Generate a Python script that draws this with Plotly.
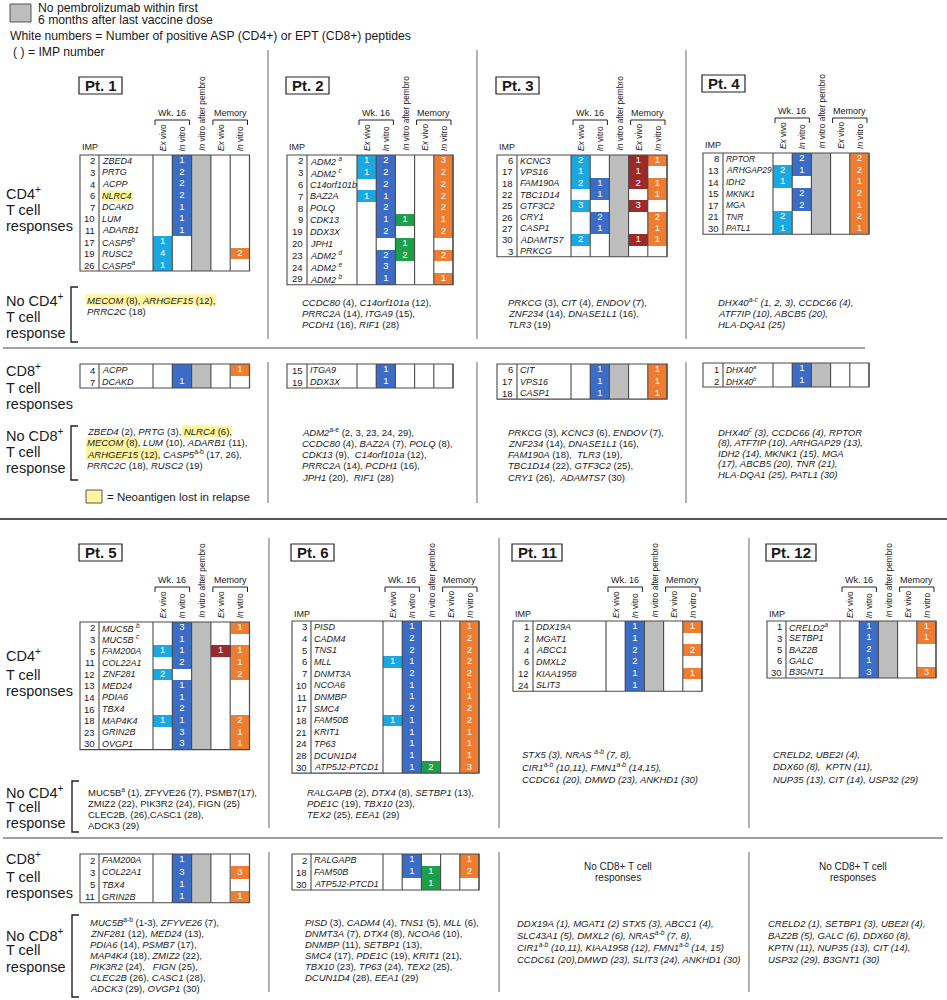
import re
import plotly.graph_objects as go

N = None

# ------------------------------------------------------------------ data
# Pt. 1
pt1_cd4_imp = [2, 3, 4, 6, 7, 10, 11, 17, 19, 26]
pt1_cd4_gene = ["ZBED4", "PRTG", "ACPP", "NLRC4", "DCAKD", "LUM", "ADARB1", "CASP5^b", "RUSC2", "CASP5^a"]
pt1_cd4_exvivo = [N, N, N, N, N, N, N, 1, 4, 1]
pt1_cd4_invitro = [1, 2, 2, 2, 1, 1, 1, N, N, N]
pt1_cd4_pembro = [N, N, N, N, N, N, N, N, N, N]
pt1_cd4_memex = [N, N, N, N, N, N, N, N, N, N]
pt1_cd4_memin = [N, N, N, N, N, N, N, N, 2, N]
pt1_cd8_imp = [4, 7]
pt1_cd8_gene = ["ACPP", "DCAKD"]
pt1_cd8_exvivo = [N, N]
pt1_cd8_invitro = ["", 1]
pt1_cd8_pembro = [N, N]
pt1_cd8_memex = [N, N]
pt1_cd8_memin = [1, N]
pt1_no_pembro = True
pt1_lost_genes = ["NLRC4"]
pt1_no_cd4 = ["MECOM (8), ARHGEF15 (12),", "PRRC2C (18)"]
pt1_no_cd4_lost = [(0, "MECOM (8), ARHGEF15 (12),")]
pt1_no_cd8 = ["ZBED4 (2), PRTG (3), NLRC4 (6),", "MECOM (8), LUM (10), ADARB1 (11),",
              "ARHGEF15 (12), CASP5^a-b (17, 26),", "PRRC2C (18), RUSC2 (19)"]
pt1_no_cd8_lost = [(0, "NLRC4 (6),"), (1, "MECOM (8)"), (2, "ARHGEF15 (12),")]

# Pt. 2
pt2_cd4_imp = [2, 3, 6, 7, 8, 9, 19, 20, 23, 24, 29]
pt2_cd4_gene = ["ADM2 ^a", "ADM2 ^c", "C14orf101b", "BAZ2A", "POLQ", "CDK13", "DDX3X", "JPH1", "ADM2 ^d", "ADM2 ^e", "ADM2 ^b"]
pt2_cd4_exvivo = [1, 1, N, 1, N, N, N, N, N, N, N]
pt2_cd4_invitro = [2, 2, 2, 1, 2, 1, 2, N, 2, 3, 1]
pt2_cd4_pembro = [N, N, N, N, N, 1, N, 1, 2, N, N]
pt2_cd4_memex = [N, N, N, N, N, N, N, N, N, N, N]
pt2_cd4_memin = [3, 2, 2, 2, 2, 1, 2, N, 2, N, 1]
pt2_cd8_imp = [15, 19]
pt2_cd8_gene = ["ITGA9", "DDX3X"]
pt2_cd8_exvivo = [N, N]
pt2_cd8_invitro = [1, 1]
pt2_cd8_pembro = [N, N]
pt2_cd8_memex = [N, N]
pt2_cd8_memin = [N, N]
pt2_no_pembro = False
pt2_no_cd4 = ["CCDC80 (4), C14orf101a (12),", "PRRC2A (14), ITGA9 (15),", "PCDH1 (16), RIF1 (28)"]
pt2_no_cd8 = ["ADM2^a-e (2, 3, 23, 24, 29),", "CCDC80 (4), BAZ2A (7), POLQ (8),",
              "CDK13 (9),  C14orf101a (12),", "PRRC2A (14), PCDH1 (16),", "JPH1 (20),  RIF1 (28)"]

# Pt. 3
pt3_cd4_imp = [6, 17, 18, 22, 25, 26, 27, 30, 3]
pt3_cd4_gene = ["KCNC3", "VPS16", "FAM190A", "TBC1D14", "GTF3C2", "CRY1", "CASP1", "ADAMTS7", "PRKCG"]
pt3_cd4_exvivo = [2, 1, 2, N, 3, N, N, 2, N]
pt3_cd4_invitro = [N, N, 1, 1, N, 2, 1, N, N]
pt3_cd4_pembro = [N, N, N, N, N, N, N, N, N]
pt3_cd4_memex = [1, 1, 2, N, 3, N, N, 1, N]
pt3_cd4_memin = [1, N, 1, 1, N, 2, 1, 1, N]
pt3_cd8_imp = [6, 17, 18]
pt3_cd8_gene = ["CIT", "VPS16", "CASP1"]
pt3_cd8_exvivo = [N, N, N]
pt3_cd8_invitro = [1, 1, 1]
pt3_cd8_pembro = [N, N, N]
pt3_cd8_memex = [N, N, N]
pt3_cd8_memin = [1, 1, 1]
pt3_no_pembro = True
pt3_no_cd4 = ["PRKCG (3), CIT (4), ENDOV (7),", "ZNF234 (14), DNASE1L1 (16),", "TLR3 (19)"]
pt3_no_cd8 = ["PRKCG (3), KCNC3 (6), ENDOV (7),", "ZNF234 (14), DNASE1L1 (16),",
              "FAM190A (18),  TLR3 (19),", "TBC1D14 (22), GTF3C2 (25),", "CRY1 (26),  ADAMTS7 (30)"]

# Pt. 4
pt4_cd4_imp = [8, 13, 14, 15, 17, 21, 30]
pt4_cd4_gene = ["RPTOR", "ARHGAP29", "IDH2", "MKNK1", "MGA", "TNR", "PATL1"]
pt4_cd4_exvivo = [N, 2, 1, N, N, 2, 1]
pt4_cd4_invitro = [2, 1, N, 2, 2, N, N]
pt4_cd4_pembro = [N, N, N, N, N, N, N]
pt4_cd4_memex = [N, N, N, N, N, N, N]
pt4_cd4_memin = [2, 2, 1, 2, 1, 2, 1]
pt4_cd8_imp = [1, 2]
pt4_cd8_gene = ["DHX40^a", "DHX40^b"]
pt4_cd8_exvivo = [N, N]
pt4_cd8_invitro = [1, 1]
pt4_cd8_pembro = [N, N]
pt4_cd8_memex = [N, N]
pt4_cd8_memin = [N, N]
pt4_no_pembro = True
pt4_no_cd4 = ["DHX40^a-c (1, 2, 3), CCDC66 (4),", "ATF7IP (10), ABCB5 (20),", "HLA-DQA1 (25)"]
pt4_no_cd8 = ["DHX40^c (3), CCDC66 (4), RPTOR", "(8), ATF7IP (10), ARHGAP29 (13),",
              "IDH2 (14), MKNK1 (15), MGA", "(17), ABCB5 (20), TNR (21),", "HLA-DQA1 (25), PATL1 (30)"]

# Pt. 5
pt5_cd4_imp = [2, 3, 5, 11, 12, 13, 14, 16, 18, 23, 30]
pt5_cd4_gene = ["MUC5B ^b", "MUC5B ^c", "FAM200A", "COL22A1", "ZNF281", "MED24", "PDIA6", "TBX4", "MAP4K4", "GRIN2B", "OVGP1"]
pt5_cd4_exvivo = [N, N, 1, N, 2, N, N, N, 1, N, N]
pt5_cd4_invitro = [3, 1, 1, 2, N, 1, 1, 2, 1, 3, 3]
pt5_cd4_pembro = [N, N, N, N, N, N, N, N, N, N, N]
pt5_cd4_memex = [N, N, 1, N, N, N, N, N, N, N, N]
pt5_cd4_memin = [1, N, 1, 1, 2, N, N, N, 2, 1, 1]
pt5_cd8_imp = [2, 3, 5, 11]
pt5_cd8_gene = ["FAM200A", "COL22A1", "TBX4", "GRIN2B"]
pt5_cd8_exvivo = [N, N, N, N]
pt5_cd8_invitro = [1, 3, 1, 1]
pt5_cd8_pembro = [N, N, N, N]
pt5_cd8_memex = [N, N, N, N]
pt5_cd8_memin = [N, 3, N, 1]
pt5_no_pembro = True
pt5_no_cd4 = ["MUC5B^a (1), ZFYVE26 (7), PSMB7(17),", "ZMIZ2 (22), PIK3R2 (24), FIGN (25)",
              "CLEC2B, (26),CASC1 (28),", "ADCK3 (29)"]
pt5_no_cd8 = ["MUC5B^a-b (1-3), ZFYVE26 (7),", "ZNF281 (12), MED24 (13),", "PDIA6 (14), PSMB7 (17),",
              "MAP4K4 (18), ZMIZ2 (22),", "PIK3R2 (24),   FIGN (25),", "CLEC2B (26), CASC1 (28),",
              "ADCK3 (29), OVGP1 (30)"]

# Pt. 6
pt6_cd4_imp = [3, 4, 5, 6, 7, 10, 11, 17, 18, 21, 24, 28, 30]
pt6_cd4_gene = ["PISD", "CADM4", "TNS1", "MLL", "DNMT3A", "NCOA6", "DNMBP", "SMC4", "FAM50B", "KRIT1", "TP63", "DCUN1D4", "ATP5J2-PTCD1"]
pt6_cd4_exvivo = [N, N, N, 1, N, N, N, N, 1, N, N, N, N]
pt6_cd4_invitro = [1, 2, 2, 1, 2, 1, 1, 2, 1, 1, 1, 1, 1]
pt6_cd4_pembro = [N, N, N, N, N, N, N, N, N, N, N, N, 2]
pt6_cd4_memex = [N, N, N, N, N, N, N, N, N, N, N, N, N]
pt6_cd4_memin = [1, 2, 2, 2, 2, 1, 1, 2, 2, 1, 1, 1, 3]
pt6_cd8_imp = [2, 18, 30]
pt6_cd8_gene = ["RALGAPB", "FAM50B", "ATP5J2-PTCD1"]
pt6_cd8_exvivo = [N, N, N]
pt6_cd8_invitro = [1, 1, N]
pt6_cd8_pembro = [N, 1, 1]
pt6_cd8_memex = [N, N, N]
pt6_cd8_memin = [1, 2, N]
pt6_no_pembro = False
pt6_no_cd4 = ["RALGAPB (2), DTX4 (8), SETBP1 (13),", "PDE1C (19), TBX10 (23),", "TEX2 (25), EEA1 (29)"]
pt6_no_cd8 = ["PISD (3), CADM4 (4), TNS1 (5), MLL (6),", "DNMT3A (7), DTX4 (8), NCOA6 (10),",
              "DNMBP (11), SETBP1 (13),", "SMC4 (17), PDE1C (19), KRIT1 (21),",
              "TBX10 (23), TP63 (24), TEX2 (25),", "DCUN1D4 (28), EEA1 (29)"]

# Pt. 11
pt11_cd4_imp = [1, 2, 4, 6, 12, 24]
pt11_cd4_gene = ["DDX19A", "MGAT1", "ABCC1", "DMXL2", "KIAA1958", "SLIT3"]
pt11_cd4_exvivo = [N, N, N, N, N, N]
pt11_cd4_invitro = [1, 1, 2, 2, 1, 1]
pt11_cd4_pembro = [N, N, N, N, N, N]
pt11_cd4_memex = [N, N, N, N, N, N]
pt11_cd4_memin = [1, N, 2, N, 1, N]
pt11_no_pembro = True
pt11_no_cd4 = ["STX5 (3), NRAS ^a-b (7, 8),", "CIR1^a-b (10,11), FMN1^a-b (14,15),", "CCDC61 (20), DMWD (23), ANKHD1 (30)"]
pt11_no_cd8 = ["DDX19A (1), MGAT1 (2) STX5 (3), ABCC1 (4),", "SLC43A1 (5), DMXL2 (6), NRAS^a-b (7, 8),",
               "CIR1^a-b (10,11), KIAA1958 (12), FMN1^a-b (14, 15)", "CCDC61 (20),DMWD (23), SLIT3 (24), ANKHD1 (30)"]

# Pt. 12
pt12_cd4_imp = [1, 3, 5, 6, 30]
pt12_cd4_gene = ["CRELD2^a", "SETBP1", "BAZ2B", "GALC", "B3GNT1"]
pt12_cd4_exvivo = [N, N, N, N, N]
pt12_cd4_invitro = [1, 1, 2, 1, 3]
pt12_cd4_pembro = [N, N, N, N, N]
pt12_cd4_memex = [N, N, N, N, N]
pt12_cd4_memin = [1, 1, N, N, 3]
pt12_no_pembro = True
pt12_no_cd4 = ["CRELD2, UBE2I (4),", "DDX60 (8),  KPTN (11),", "NUP35 (13), CIT (14), USP32 (29)"]
pt12_no_cd8 = ["CRELD2 (1), SETBP1 (3), UBE2I (4),", "BAZ2B (5), GALC (6), DDX60 (8),",
               "KPTN (11), NUP35 (13), CIT (14),", "USP32 (29), B3GNT1 (30)"]

col_headers = ["<i>Ex</i> vivo", "<i>In</i> vitro", "<i>In</i> vitro after pembro", "<i>Ex</i> vivo", "<i>In</i> vitro"]
group_headers = ["Wk. 16", "Memory"]

# ------------------------------------------------------------------ style
FONT = "Liberation Sans, Arial, sans-serif"
W, H = 947, 1000
C_EXV = "#1ba7e0"
C_INV = "#3b6cc6"
C_PEM = "#1f9e4a"
C_MEX = "#9b2b2b"
C_MIN = "#ee7d31"
C_GRAY = "#bdbdbd"
C_YEL = "#fff59d"
C_LINE = "#4a4a4a"
C_SEP = "#9a9a9a"
TXT = "#1a1a1a"
CODES = ["#ffffff", C_EXV, C_INV, C_GRAY, C_PEM, C_MEX, C_MIN]
COL_CODE = [1, 2, 4, 5, 6]
GRAY_CODE = 3
FS_NUM = 9.5
FS_GENE = 9.0
FS_TXT = 9.5
FS_HDR = 8.3
FS_LBL = 14.5
FS_LEG = 12.2

# Arial / Liberation Sans advance widths (1/1000 em) used to size highlight boxes
_AW = {" ": 278, "(": 333, ")": 333, ",": 278, "-": 333, ".": 278}
_AW.update({d: 556 for d in "0123456789"})
_AW.update(dict(zip("ABCDEFGHIJKLMNOPQRSTUVWXYZ",
                    [667, 667, 722, 722, 667, 611, 778, 722, 278, 500, 667, 556, 833, 722, 778, 667,
                     778, 722, 667, 611, 722, 667, 944, 667, 667, 611])))
_AW.update(dict(zip("abcdefghijklmnopqrstuvwxyz",
                    [556, 556, 500, 556, 556, 278, 556, 556, 222, 222, 500, 222, 833, 556, 556, 556,
                     556, 333, 500, 278, 556, 500, 722, 500, 500, 500])))


def text_width(s, size):
    return sum(_AW.get(ch, 556) for ch in s) / 1000.0 * size


colorscale = []
for k, c in enumerate(CODES):
    colorscale.append([k / len(CODES), c])
    colorscale.append([(k + 1) / len(CODES), c])

fig = go.Figure()
shapes = []
anns = []


def fmt(s, mode):
    if mode == "g":
        s = re.sub(r"\b([A-Z][A-Za-z0-9]*(?:-[A-Za-z0-9]+)*)", r"<i>\1</i>", s)
    s = re.sub(r"\^([a-e](?:-[a-e])?)", r"<sup>\1</sup>", s)
    if mode == "all":
        s = "<i>" + s + "</i>"
    return s


def ann(x, y, text, size, xanchor="left", yanchor="middle", color=TXT, bg=None, angle=0):
    d = dict(x=x, y=y, xref="x", yref="y", text=text, showarrow=False, xanchor=xanchor,
             yanchor=yanchor, font=dict(family=FONT, size=size, color=color), borderpad=0,
             textangle=angle)
    if bg:
        d["bgcolor"] = bg
    anns.append(d)


def line(x0, y0, x1, y1, color=C_LINE, width=1.1):
    shapes.append(dict(type="line", xref="x", yref="y", x0=x0, y0=y0, x1=x1, y1=y1,
                       line=dict(color=color, width=width)))


def rect(x0, y0, x1, y1, fill=None, color=C_LINE, width=1.1):
    shapes.append(dict(type="rect", xref="x", yref="y", x0=x0, y0=y0, x1=x1, y1=y1,
                       fillcolor=fill if fill else "rgba(0,0,0,0)", line=dict(color=color, width=width),
                       layer="above" if fill is None else "below"))


def table(g, top, rh, imp, genes, cols, gray, lost=()):
    left, iw, gw, cw = g["left"], g["imp_w"], g["gene_w"], g["cw"]
    gfs = g.get("gfs", FS_GENE)
    dl = left + iw + gw
    n = len(imp)
    z = []
    for r in range(n):
        row = []
        for c in range(5):
            v = cols[c][r]
            if c == 2 and gray:
                row.append(GRAY_CODE)
            elif v is not None:
                row.append(COL_CODE[c])
            else:
                row.append(0)
        z.append(row)
    xe = [dl + i * cw for i in range(6)]
    ye = [top + r * rh for r in range(n + 1)]
    fig.add_trace(go.Heatmap(z=z, x=xe, y=ye, colorscale=colorscale, zmin=-0.5, zmax=len(CODES) - 0.5,
                             showscale=False, hoverinfo="skip"))
    tx, ty, tt = [], [], []
    for r in range(n):
        for c in range(5):
            v = cols[c][r]
            if v is not None and v != "":
                tx.append(dl + (c + 0.5) * cw)
                ty.append(top + (r + 0.5) * rh)
                tt.append(str(v))
    fig.add_trace(go.Scatter(x=tx, y=ty, text=tt, mode="text", textposition="middle center",
                             textfont=dict(family=FONT, size=FS_NUM, color="white"), hoverinfo="skip"))
    bottom = top + n * rh
    for r in range(n):
        yc = top + (r + 0.5) * rh
        ann(left + iw - 3, yc, str(imp[r]), FS_NUM, xanchor="right")
        gname = genes[r].split("^")[0].strip()
        ann(left + iw + 2, yc, "<i>" + fmt(genes[r], None) + "</i>", gfs,
            bg=C_YEL if gname in lost else None)
    rect(left, top, dl + 5 * cw, bottom)
    line(left + iw, top, left + iw, bottom)
    for i in range(6):
        line(dl + i * cw, top, dl + i * cw, bottom)
    return dl


def header(g, top, title, imp_label):
    left, iw, gw, cw = g["left"], g["imp_w"], g["gene_w"], g["cw"]
    dl = left + iw + gw
    bw = 43 if len(title) <= 5 else 50
    rect(left - 1, top - 78, left - 1 + bw, top - 61, color="#222", width=1.2)
    ann(left - 1 + bw / 2, top - 69.5, "<b>" + title + "</b>", 15, xanchor="center")
    if imp_label:
        ann(left + 1, top - 8, "IMP", 9)
    for c in range(5):
        ann(dl + (c + 0.5) * cw, top - 3, col_headers[c], FS_HDR, xanchor="center",
            yanchor="bottom", angle=-90)
    for gi, (c0, c1) in enumerate([(0, 1), (3, 4)]):
        x0 = dl + c0 * cw + 2
        x1 = dl + (c1 + 1) * cw - 2
        ann((x0 + x1) / 2, top - 42, group_headers[gi], 9, xanchor="center")
        shapes.append(dict(type="path", xref="x", yref="y",
                           path=f"M {x0},{top - 30} L {x0},{top - 35} L {x1},{top - 35} L {x1},{top - 30}",
                           line=dict(color="#222", width=1)))


def text_block(lines, x, y0, dy, mode, lost=()):
    for (idx, sub) in lost:
        raw = lines[idx]
        s = raw.find(sub)
        xa = x + 1 + text_width(raw[:s], FS_TXT) - 1
        xb = x + 1 + text_width(raw[:s + len(sub)], FS_TXT) + 1
        y = y0 + idx * dy
        shapes.append(dict(type="rect", xref="x", yref="y", x0=xa, x1=xb, y0=y - 5.8, y1=y + 5.8,
                           fillcolor=C_YEL, line=dict(width=0), layer="below"))
    for li, raw in enumerate(lines):
        ann(x, y0 + li * dy, fmt(raw, mode), FS_TXT)


def bracket(x, y0, y1):
    shapes.append(dict(type="path", xref="x", yref="y",
                       path=f"M {x + 7},{y0} L {x},{y0} L {x},{y1} L {x + 7},{y1}",
                       line=dict(color="#222", width=1.4)))


# ------------------------------------------------------------------ geometry
G = {
    1: dict(left=80, imp_w=19, gene_w=54, cw=19.3),
    2: dict(left=287, imp_w=20, gene_w=50, cw=19.2),
    3: dict(left=497, imp_w=20, gene_w=54, cw=19.2),
    4: dict(left=703, imp_w=20, gene_w=50, cw=19.2, gfs=8.4),
    5: dict(left=80, imp_w=19, gene_w=54, cw=19.3),
    6: dict(left=292, imp_w=19, gene_w=72, cw=19.2),
    11: dict(left=513, imp_w=20, gene_w=73, cw=19.2),
    12: dict(left=767, imp_w=19, gene_w=54, cw=19.2),
}
S1_TOP, S1_CD8 = 155, 364
S2_TOP, S2_CD8 = 622, 854
RH4, RH8 = 11.6, 12.0

# ------------------------------------------------------------------ legend
rect(10, 4, 31, 22, fill=C_GRAY, color="#555", width=1)
ann(37, 8, "No pembrolizumab within first", FS_LEG)
ann(37, 20, "6 months after last vaccine dose", FS_LEG)
ann(9, 36, "White numbers = Number of positive ASP (CD4+) or EPT (CD8+) peptides", FS_LEG)
ann(12, 52, "( ) = IMP number", FS_LEG)
rect(86, 490, 102, 503, fill=C_YEL, color="#555", width=1)
ann(106, 497, "= Neoantigen lost in relapse", 11.5)

# ------------------------------------------------------------------ section 1
header(G[1], S1_TOP, "Pt. 1", True)
table(G[1], S1_TOP, RH4, pt1_cd4_imp, pt1_cd4_gene,
      [pt1_cd4_exvivo, pt1_cd4_invitro, pt1_cd4_pembro, pt1_cd4_memex, pt1_cd4_memin], pt1_no_pembro, pt1_lost_genes)
table(G[1], S1_CD8, RH8, pt1_cd8_imp, pt1_cd8_gene,
      [pt1_cd8_exvivo, pt1_cd8_invitro, pt1_cd8_pembro, pt1_cd8_memex, pt1_cd8_memin], pt1_no_pembro)
header(G[2], S1_TOP, "Pt. 2", True)
table(G[2], S1_TOP, 11.8, pt2_cd4_imp, pt2_cd4_gene,
      [pt2_cd4_exvivo, pt2_cd4_invitro, pt2_cd4_pembro, pt2_cd4_memex, pt2_cd4_memin], pt2_no_pembro)
table(G[2], S1_CD8, RH8, pt2_cd8_imp, pt2_cd8_gene,
      [pt2_cd8_exvivo, pt2_cd8_invitro, pt2_cd8_pembro, pt2_cd8_memex, pt2_cd8_memin], pt2_no_pembro)
header(G[3], S1_TOP, "Pt. 3", True)
table(G[3], S1_TOP, 11.3, pt3_cd4_imp, pt3_cd4_gene,
      [pt3_cd4_exvivo, pt3_cd4_invitro, pt3_cd4_pembro, pt3_cd4_memex, pt3_cd4_memin], pt3_no_pembro)
table(G[3], S1_CD8, 11.7, pt3_cd8_imp, pt3_cd8_gene,
      [pt3_cd8_exvivo, pt3_cd8_invitro, pt3_cd8_pembro, pt3_cd8_memex, pt3_cd8_memin], pt3_no_pembro)
header(G[4], S1_TOP - 2, "Pt. 4", True)
table(G[4], S1_TOP - 2, RH4, pt4_cd4_imp, pt4_cd4_gene,
      [pt4_cd4_exvivo, pt4_cd4_invitro, pt4_cd4_pembro, pt4_cd4_memex, pt4_cd4_memin], pt4_no_pembro)
table(G[4], S1_CD8 - 1, RH8, pt4_cd8_imp, pt4_cd8_gene,
      [pt4_cd8_exvivo, pt4_cd8_invitro, pt4_cd8_pembro, pt4_cd8_memex, pt4_cd8_memin], pt4_no_pembro)

text_block(pt1_no_cd4, 86, 300, 11.8, "g", pt1_no_cd4_lost)
text_block(pt2_no_cd4, 301, 302, 11.3, "g")
text_block(pt3_no_cd4, 507, 302, 11.3, "g")
text_block(pt4_no_cd4, 717, 302, 11.0, "all")
text_block(pt1_no_cd8, 86, 431.5, 11.3, "g", pt1_no_cd8_lost)
text_block(pt2_no_cd8, 301, 432, 11.3, "g")
text_block(pt3_no_cd8, 507, 432, 11.3, "g")
text_block(pt4_no_cd8, 717, 432, 10.6, "all")

# ------------------------------------------------------------------ section 2
header(G[5], S2_TOP, "Pt. 5", False)
table(G[5], S2_TOP, RH4, pt5_cd4_imp, pt5_cd4_gene,
      [pt5_cd4_exvivo, pt5_cd4_invitro, pt5_cd4_pembro, pt5_cd4_memex, pt5_cd4_memin], pt5_no_pembro)
table(G[5], S2_CD8, 12.2, pt5_cd8_imp, pt5_cd8_gene,
      [pt5_cd8_exvivo, pt5_cd8_invitro, pt5_cd8_pembro, pt5_cd8_memex, pt5_cd8_memin], pt5_no_pembro)
header(G[6], S2_TOP, "Pt. 6", True)
table(G[6], S2_TOP - 1, 11.7, pt6_cd4_imp, pt6_cd4_gene,
      [pt6_cd4_exvivo, pt6_cd4_invitro, pt6_cd4_pembro, pt6_cd4_memex, pt6_cd4_memin], pt6_no_pembro)
table(G[6], S2_CD8, RH8, pt6_cd8_imp, pt6_cd8_gene,
      [pt6_cd8_exvivo, pt6_cd8_invitro, pt6_cd8_pembro, pt6_cd8_memex, pt6_cd8_memin], pt6_no_pembro)
header(G[11], S2_TOP, "Pt. 11", True)
table(G[11], S2_TOP - 1, 11.7, pt11_cd4_imp, pt11_cd4_gene,
      [pt11_cd4_exvivo, pt11_cd4_invitro, pt11_cd4_pembro, pt11_cd4_memex, pt11_cd4_memin], pt11_no_pembro)
header(G[12], S2_TOP, "Pt. 12", True)
table(G[12], S2_TOP - 1, 11.4, pt12_cd4_imp, pt12_cd4_gene,
      [pt12_cd4_exvivo, pt12_cd4_invitro, pt12_cd4_pembro, pt12_cd4_memex, pt12_cd4_memin], pt12_no_pembro)

text_block(pt5_no_cd4, 87, 792, 11.0, None)
text_block(pt6_no_cd4, 306, 792, 11.0, "g")
text_block(pt11_no_cd4, 521, 754, 12.5, "all")
text_block(pt12_no_cd4, 772, 754, 12.5, "all")
text_block(pt5_no_cd8, 89, 922, 11.0, "g")
text_block(pt6_no_cd8, 304, 922, 11.0, "g")
text_block(pt11_no_cd8, 516, 923, 12.0, "all")
text_block(pt12_no_cd8, 767, 923, 12.0, "all")
for xc in (618, 853):
    ann(xc, 866, "No CD8+ T cell", 10, xanchor="center")
    ann(xc, 877.5, "responses", 10, xanchor="center")

# ------------------------------------------------------------------ row labels
labels = [
    (["CD4<sup>+</sup>", "T cell", "responses"], [193, 210, 226]),
    (["No CD4<sup>+</sup>", "T cell", "response"], [300, 317, 333]),
    (["CD8<sup>+</sup>", "T cell", "responses"], [370, 388, 404]),
    (["No CD8<sup>+</sup>", "T cell", "response"], [435, 452, 468]),
    (["CD4<sup>+</sup>", "T cell", "responses"], [655, 675, 691]),
    (["No CD4<sup>+</sup>", "T cell", "response"], [792, 807, 823]),
    (["CD8<sup>+</sup>", "T cell", "responses"], [858, 877, 893]),
    (["No CD8<sup>+</sup>", "T cell", "response"], [935, 950, 967]),
]
for texts, ys in labels:
    for t, y in zip(texts, ys):
        ann(5, y, t, FS_LBL)
bracket(71, 287, 342)
bracket(71, 426, 480)
bracket(72, 781, 832)
bracket(72, 915, 997)

# ------------------------------------------------------------------ separators
for x in (268, 477, 686):
    line(x, 50, x, 339, C_SEP, 1.5)
    line(x, 362, x, 503, C_SEP, 1.5)
for x in (269, 499, 749):
    line(x, 538, x, 828, C_SEP, 1.5)
    line(x, 852, x, 992, C_SEP, 1.5)
line(3, 348, 865, 348, "#808080", 1.5)
line(0, 519, W, 519, "#555555", 2)
line(3, 838, 943, 838, "#808080", 1.5)

fig.update_layout(
    width=W, height=H, autosize=False,
    margin=dict(l=0, r=0, t=0, b=0),
    paper_bgcolor="white", plot_bgcolor="white",
    showlegend=False,
    xaxis=dict(range=[0, W], visible=False, fixedrange=True),
    yaxis=dict(range=[H, 0], visible=False, fixedrange=True),
    shapes=shapes, annotations=anns,
    font=dict(family=FONT, color=TXT),
)
fig.write_html("out.html", config={"displayModeBar": False},
               post_script="document.body.style.margin='0px';")
